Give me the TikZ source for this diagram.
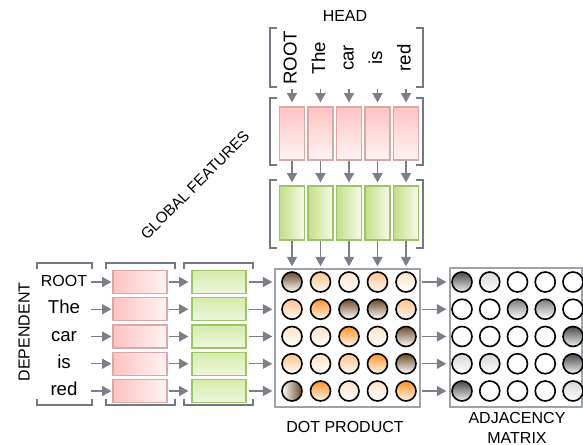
\documentclass[tikz,border=0pt]{standalone}
\usepackage{fontspec}
\setmainfont{Liberation Sans}
\usetikzlibrary{arrows.meta,calc}
\definecolor{arrgray}{HTML}{7A7F88}
\definecolor{brkgray}{HTML}{737882}
\definecolor{boxgray}{HTML}{9EA3A9}
\definecolor{pinkt}{HTML}{FFC3C3}
\definecolor{pinkw}{HTML}{FFF4F4}
\definecolor{pinkb}{HTML}{DBA8A8}
\definecolor{greent}{HTML}{C3DF88}
\definecolor{greenw}{HTML}{F6FBEA}
\definecolor{greenb}{HTML}{9EC46A}
\definecolor{greenht}{HTML}{D6ECAA}
\definecolor{greenhb}{HTML}{EEF7DD}
\definecolor{brownT}{HTML}{6B4A2C}
\definecolor{orangeT}{HTML}{FF9326}
\definecolor{lightT}{HTML}{FFC28A}
\definecolor{vlightT}{HTML}{FFE3C8}
\definecolor{darkG}{HTML}{4A4A4A}
\definecolor{midG}{HTML}{7D7D7D}
\definecolor{lightG}{HTML}{D6D6D6}
\begin{document}
\begin{tikzpicture}[x=0.75pt,y=-0.75pt,
  lbl/.style={font=\fontsize{12}{15}\selectfont, inner sep=0pt},
  wrd/.style={font=\fontsize{14}{16}\selectfont, inner sep=0pt, text height=10pt, text depth=3pt},
  arr/.style={draw=arrgray, line width=1.1pt, -{Triangle[length=7pt,width=7.5pt]}},
  brk/.style={draw=brkgray, line width=1.8pt},
  pinkV/.style={draw=pinkb, line width=0.9pt, top color=pinkt, bottom color=pinkw, minimum width=18.75pt, minimum height=39.75pt, inner sep=0pt},
  pinkH/.style={draw=pinkb, line width=0.9pt, left color=pinkt, right color=pinkw, minimum width=40.5pt, minimum height=17.25pt, inner sep=0pt},
  greenV/.style={draw=greenb, line width=0.9pt, left color=greent, right color=greenw, minimum width=18.75pt, minimum height=40.5pt, inner sep=0pt},
  greenH/.style={draw=greenb, line width=0.9pt, top color=greenht, bottom color=greenhb, minimum width=40.5pt, minimum height=17.25pt, inner sep=0pt},
  mbox/.style={draw=boxgray, line width=1.1pt, fill=white, inner sep=0pt},
  dotc/.style={circle, draw=black, line width=1.2pt, minimum size=15pt, inner sep=0pt},
  cB/.style={dotc, top color=brownT, bottom color=white},
  cBH/.style={dotc, left color=white, right color=brownT},
  cO/.style={dotc, top color=orangeT, bottom color=white!92!orangeT},
  cL/.style={dotc, top color=lightT, bottom color=white!95!orangeT},
  cV/.style={dotc, top color=vlightT, bottom color=white},
  gD/.style={dotc, top color=darkG, bottom color=white!94!black},
  gM/.style={dotc, top color=midG, bottom color=white},
  gL/.style={dotc, top color=lightG, bottom color=white},
  gW/.style={dotc, fill=white}
]
\useasboundingbox (0,0) rectangle (583,445);

% titles
\node[lbl] (head) at (345,16) {HEAD};
\node[lbl, rotate=90] (dep) at (24,332) {DEPENDENT};
\node[lbl, rotate=45, font=\fontsize{11.5}{14}\selectfont] (glob) at (195,185) {GLOBAL FEATURES};

% head words
\foreach \w [count=\j, evaluate=\j as \x using {292+28.5*(\j-1)}] in {ROOT,The,car,is,red} {
  \node[wrd, rotate=90, minimum width=42pt] (h\j) at (\x,58) {\w};
  \node[pinkV] (p\j) at (\x,133.5) {};
  \node[greenV] (g\j) at (\x,213) {};
}

% matrix boxes
\node[mbox, minimum width=108.75pt, minimum height=103.5pt] (dot) at (347.5,338) {};
\node[mbox, minimum width=99pt, minimum height=104.25pt] (adj) at (516,337.5) {};

% head brackets
\draw[brk] (277,28) -- (270,28) -- (270,87) -- (277,87);
\draw[brk] (416,28) -- (423,28) -- (423,87) -- (416,87);
\draw[brk] (277,98) -- (270,98) -- (270,165) -- (277,165);
\draw[brk] (416,98) -- (423,98) -- (423,165) -- (416,165);
\draw[brk] (277,180) -- (270,180) -- (270,248) -- (277,248);
\draw[brk] (416,180) -- (423,180) -- (423,248) -- (416,248);

% vertical arrows
\foreach \j in {1,...,5} {
  \draw[arr, shorten <=2pt, shorten >=3pt] (h\j.west) -- (p\j.north);
  \draw[arr, shorten >=2.25pt] (p\j.south) -- (g\j.north);
  \draw[arr, shorten >=1.5pt] (g\j.south) -- (g\j.south |- dot.north);
}

% left side
\foreach \w/\f [count=\i, evaluate=\i as \y using {282+27.25*(\i-1)}] in {ROOT/12,The/14,car/14,is/14,red/14} {
  \node[wrd, font=\fontsize{\f}{16}\selectfont, minimum width=37.5pt] (w\i) at (64,\y) {\w};
  \node[pinkH] (lp\i) at (140,\y) {};
  \node[greenH] (lg\i) at (219,\y) {};
  \draw[arr, shorten <=1.5pt, shorten >=0.75pt] (w\i.east) -- (lp\i.west);
  \draw[arr, shorten <=0.75pt, shorten >=2.25pt] (lp\i.east) -- (lg\i.west);
  \draw[arr, shorten <=1.5pt, shorten >=1.5pt] (lg\i.east) -- (dot.west |- lg\i.east);
}

% left brackets
\draw[brk] (37,269) -- (37,263) -- (92,263) -- (92,269);
\draw[brk] (37,399) -- (37,405) -- (92,405) -- (92,399);
\draw[brk] (106,269) -- (106,263) -- (175,263) -- (175,269);
\draw[brk] (106,399) -- (106,405) -- (175,405) -- (175,399);
\draw[brk] (184,269) -- (184,263) -- (253,263) -- (253,269);
\draw[brk] (184,399) -- (184,405) -- (253,405) -- (253,399);

% dot product circles
\foreach \row [count=\i, evaluate=\i as \y using {282+27.25*(\i-1)}] in
  {{cB,cL,cV,cL,cV},{cL,cO,cB,cB,cL},{cV,cV,cO,cV,cB},{cL,cV,cL,cO,cB},{cBH,cO,cV,cV,cO}} {
  \foreach \s [count=\j, evaluate=\j as \x using {292+28.5*(\j-1)}] in \row {
    \node[\s] (d\i\j) at (\x,\y) {};
  }
}
% adjacency circles
\foreach \row [count=\i, evaluate=\i as \y using {282+27.25*(\i-1)}] in
  {{gD,gL,gW,gW,gW},{gW,gW,gM,gM,gW},{gW,gW,gW,gW,gD},{gL,gL,gW,gW,gD},{gD,gW,gW,gW,gL}} {
  \foreach \s [count=\j, evaluate=\j as \x using {462+27.75*(\j-1)}] in \row {
    \node[\s] (a\i\j) at (\x,\y) {};
  }
}

% dot -> adjacency arrows
\foreach \i in {1,...,5} {
  \draw[arr, shorten <=0.75pt, shorten >=2.25pt] (dot.east |- d\i5) -- (adj.west |- d\i5);
}

\node[lbl] (dotlbl) at (345,427) {DOT PRODUCT};
\node[lbl, align=center, font=\fontsize{12}{14.5}\selectfont] (adjlbl) at (517,428) {ADJACENCY\\MATRIX};
\end{tikzpicture}
\end{document}
